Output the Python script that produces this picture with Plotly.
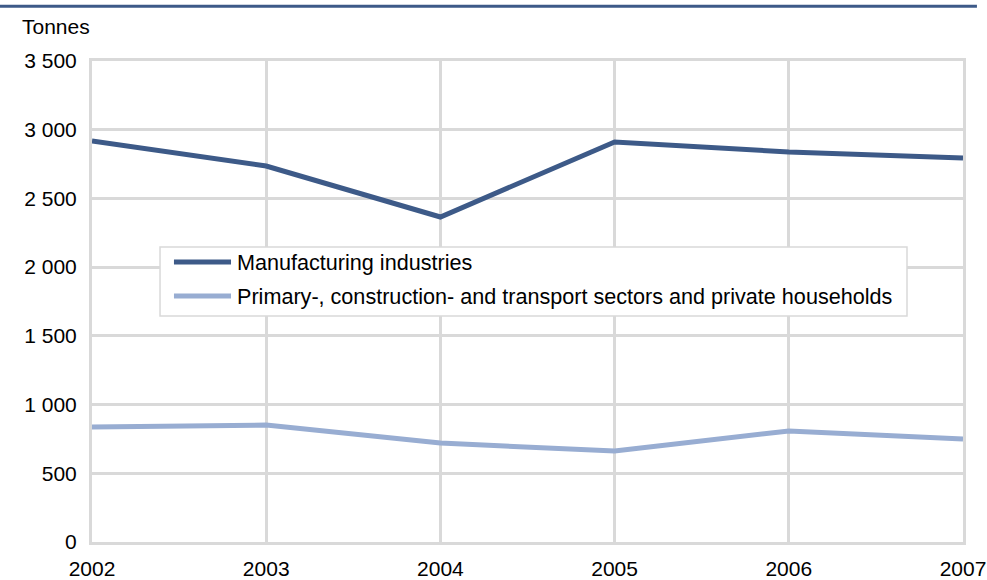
import plotly.graph_objects as go

# Emissions by sector, tonnes per year
years = [2002, 2003, 2004, 2005, 2006, 2007]
manufacturing = [2918, 2736, 2365, 2911, 2838, 2794]
primary_other = [837, 851, 720, 662, 808, 750]
series_names = [
    "Manufacturing industries",
    "Primary-, construction- and transport sectors and private households",
]
y_ticks = [0, 500, 1000, 1500, 2000, 2500, 3000, 3500]

dark_blue = "#3D5A88"
light_blue = "#98ADD2"
colors = [dark_blue, light_blue]
grid_grey = "#D9D9D9"

fig = go.Figure()
for name, vals, col in zip(series_names, [manufacturing, primary_other], colors):
    fig.add_trace(go.Scatter(x=years, y=vals, mode="lines", name=name,
                             line=dict(color=col, width=5), showlegend=False))

font = dict(family="Liberation Sans, Arial, sans-serif", size=21, color="#000000")
legend_font = dict(family="Liberation Sans, Arial, sans-serif", size=21.6, color="#000000")

# Boxed legend inside the plot, with long line samples
legend_shapes = [dict(type="rect", xref="paper", yref="paper",
                      x0=0.0781, x1=0.9357, y0=0.4699, y1=0.6133,
                      fillcolor="white", line=dict(color=grid_grey, width=1.5),
                      layer="above")]
legend_annots = []
for i, (name, col) in enumerate(zip(series_names, colors)):
    ly = 0.5821 - i * 0.0707
    legend_shapes.append(dict(type="line", xref="paper", yref="paper",
                              x0=0.0941, x1=0.1596, y0=ly, y1=ly,
                              line=dict(color=col, width=5), layer="above"))
    legend_annots.append(dict(text=name, xref="paper", yref="paper",
                              x=0.1642, y=ly, xanchor="left", yanchor="middle",
                              showarrow=False, font=legend_font))

fig.update_layout(
    width=987, height=580,
    margin=dict(l=92, r=24, t=61, b=38, autoexpand=False),
    paper_bgcolor="white", plot_bgcolor="white",
    font=font,
    separators=". ",
    showlegend=False,
    xaxis=dict(range=[2002, 2007], tickvals=years, ticktext=[str(y) for y in years],
               showgrid=True, gridcolor=grid_grey, gridwidth=3,
               showline=True, linecolor=grid_grey, linewidth=3, mirror=True,
               ticks="outside", ticklen=6, tickcolor="rgba(0,0,0,0)",
               zeroline=False, tickfont=font, automargin=False),
    yaxis=dict(range=[0, 3500], tickvals=y_ticks, tickformat=",d",
               showgrid=True, gridcolor=grid_grey, gridwidth=3,
               showline=True, linecolor=grid_grey, linewidth=3, mirror=True,
               ticks="outside", ticklen=8, tickcolor="rgba(0,0,0,0)",
               zeroline=False, tickfont=font, automargin=False),
    annotations=[dict(text="Tonnes", xref="paper", yref="paper",
                      x=-0.0827, y=1.0707, xanchor="left", yanchor="middle",
                      showarrow=False, font=font)] + legend_annots,
    shapes=[dict(type="line", xref="paper", yref="paper",
                 x0=-0.106, x1=1.016, y0=1.114, y1=1.114,
                 line=dict(color="#3D5A88", width=3))] + legend_shapes,
)

fig.write_html("out.html")
